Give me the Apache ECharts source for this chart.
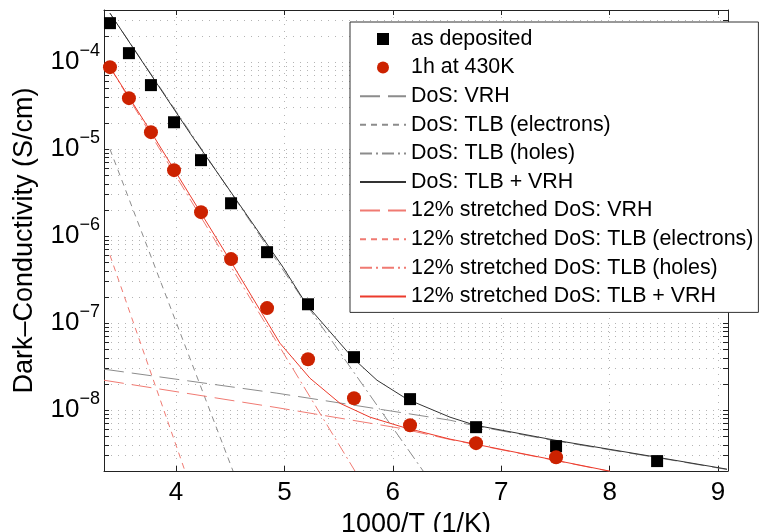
<!DOCTYPE html>
<html>
<head>
<meta charset="utf-8">
<script src="https://cdn.jsdelivr.net/npm/echarts@6/dist/echarts.min.js"></script>
<style>
html, body { margin: 0; padding: 0; background: #fff; }
#chart { width: 760px; height: 532px; }
</style>
</head>
<body>
<div id="chart"></div>
<script>
// measured conductivity, x = 1000/T
var measX = [3.391, 3.566, 3.769, 3.982, 4.231, 4.508, 4.840, 5.218, 5.642, 6.159, 6.768, 7.506, 8.438];
var asDeposited = [2.81e-4, 1.27e-4, 5.45e-5, 2.04e-5, 7.48e-6, 2.39e-6, 6.55e-7, 1.65e-7, 4.07e-8, 1.34e-8, 6.38e-9, 3.86e-9, 2.60e-9];
var annealed = [8.77e-5, 3.86e-5, 1.57e-5, 5.74e-6, 1.89e-6, 5.45e-7, 1.49e-7, 3.85e-8, 1.37e-8, 6.72e-9, 4.18e-9, 2.88e-9];

// model curves (DoS)
var vrhX = [3.336, 4.930, 6.528, 6.758, 7.496, 8.437, 9.083];
var vrhY = [2.96e-8, 1.57e-8, 7.67e-9, 6.60e-9, 4.45e-9, 2.85e-9, 2.08e-9];
var elecX = [3.391, 4.526];
var elecY = [1.0e-5, 2.0e-9];
var holesX = [3.391, 5.208, 6.280];
var holesY = [3.66e-4, 1.60e-7, 2.0e-9];
var sumX = [3.391, 4.129, 4.987, 5.208, 5.633, 5.854, 6.131, 6.528, 6.758, 7.496, 8.437, 9.083];
var sumY = [3.66e-4, 1.53e-5, 4.41e-7, 1.61e-7, 3.96e-8, 2.21e-8, 1.34e-8, 8.31e-9, 6.73e-9, 4.52e-9, 2.88e-9, 2.10e-9];

// model curves, 12% stretched DoS
var sVrhX = [3.336, 4.913, 6.066, 6.528, 8.004];
var sVrhY = [2.21e-8, 1.08e-8, 6.21e-9, 4.60e-9, 1.98e-9];
var sElecX = [3.391, 4.083];
var sElecY = [6.05e-7, 2.0e-9];
var sHolesX = [3.391, 5.651];
var sHolesY = [8.77e-5, 2.0e-9];
var sSumX = [3.391, 3.760, 4.498, 4.959, 5.236, 5.513, 5.790, 6.094, 6.528, 8.004];
var sSumY = [8.77e-5, 1.65e-5, 5.30e-7, 5.89e-8, 2.33e-8, 1.20e-8, 8.31e-9, 6.38e-9, 4.65e-9, 1.99e-9];

var xTicks = [4, 5, 6, 7, 8, 9];
var yMajor = [1e-8, 1e-7, 1e-6, 1e-5, 1e-4];
var yDecades = [1e-9, 1e-8, 1e-7, 1e-6, 1e-5, 1e-4];
var ySteps = [1, 2, 3, 4, 5, 6, 7, 8, 9];

var FONT = 'Liberation Sans, Arial, Helvetica, sans-serif';
var GRAY = '#8c8c8c';
var RED = '#ec3b2c';
var PINK = '#f07a72';

var yTicks = [];
yDecades.forEach(function (d) {
    ySteps.forEach(function (s) {
        var v = s * d;
        if (v >= 2e-9 && v <= 3.98e-4) yTicks.push(v);
    });
});

function pairs(xs, ys) {
    return xs.map(function (x, i) { return [x, ys[i]]; });
}

function curve(name, xs, ys, color, type) {
    return {
        name: name,
        type: 'line',
        data: pairs(xs, ys),
        symbol: 'none',
        showSymbol: false,
        lineStyle: { color: color, width: 1, type: type },
        itemStyle: { color: color },
        z: 2,
        silent: true
    };
}

// legend entries for the curves: line only, no marker
function lineEntry(name) {
    return { name: name, itemStyle: { opacity: 0 } };
}

var axisLine = { show: true, lineStyle: { color: '#222', width: 1 } };
var tickStyle = { color: '#222', width: 1 };
var gridDots = { show: true, lineStyle: { color: '#b4b4b4', width: 1, type: [1, 6] } };

var chart = echarts.init(document.getElementById('chart'));
var option = {
    animation: false,
    backgroundColor: '#fff',
    textStyle: { fontFamily: FONT },
    grid: { left: 104, right: 32, top: 10, bottom: 61, containLabel: false, outerBoundsMode: 'none' },
    legend: {
        orient: 'vertical',
        left: 350,
        top: 22,
        padding: [6, 5, 5, 9],
        itemWidth: 46,
        itemHeight: 12,
        itemGap: 6.6,
        selectedMode: false,
        symbolKeepAspect: true,
        backgroundColor: '#fff',
        borderColor: '#333',
        borderWidth: 1,
        textStyle: { fontFamily: FONT, fontSize: 21.4, color: '#000', lineHeight: 22 },
        data: [
            { name: 'as deposited', icon: 'path://M0,0L10,0L10,10L0,10Z', itemStyle: { opacity: 1 } },
            { name: '1h at 430K', icon: 'circle', itemStyle: { opacity: 1 } },
            lineEntry('DoS: VRH'),
            lineEntry('DoS: TLB (electrons)'),
            lineEntry('DoS: TLB (holes)'),
            lineEntry('DoS: TLB + VRH'),
            lineEntry('12% stretched DoS: VRH'),
            lineEntry('12% stretched DoS: TLB (electrons)'),
            lineEntry('12% stretched DoS: TLB (holes)'),
            lineEntry('12% stretched DoS: TLB + VRH')
        ]
    },
    xAxis: [{
        type: 'value',
        min: 3.336,
        max: 9.092,
        name: '1000/T (1/K)',
        nameLocation: 'middle',
        nameGap: 34,
        nameTextStyle: { fontFamily: FONT, fontSize: 27, color: '#000' },
        axisLine: axisLine,
        axisTick: { inside: true, length: 5, lineStyle: tickStyle, customValues: xTicks },
        axisLabel: { customValues: xTicks, fontFamily: FONT, fontSize: 26, color: '#000', margin: 9 },
        splitLine: gridDots
    }, {
        type: 'value',
        position: 'top',
        min: 3.336,
        max: 9.092,
        axisLine: axisLine,
        axisTick: { inside: true, length: 5, lineStyle: tickStyle, customValues: xTicks },
        axisLabel: { show: false },
        splitLine: { show: false }
    }],
    yAxis: [{
        type: 'log',
        logBase: 10,
        min: 2e-9,
        max: 3.98e-4,
        name: 'Dark\u2013Conductivity (S/cm)',
        nameLocation: 'middle',
        nameGap: 66,
        nameTextStyle: { fontFamily: FONT, fontSize: 27, color: '#000' },
        axisLine: axisLine,
        axisTick: { inside: true, length: 5, lineStyle: tickStyle, customValues: yTicks },
        axisLabel: {
            customValues: yMajor,
            margin: 4,
            formatter: function (v) {
                var e = Math.round(Math.log10(v));
                return '{b|10}{s|\u2212' + Math.abs(e) + '}';
            },
            rich: {
                b: { fontFamily: FONT, fontSize: 26, color: '#000' },
                s: { fontFamily: FONT, fontSize: 18, color: '#000', padding: [0, 0, 22, 0] }
            }
        },
        splitLine: gridDots
    }, {
        type: 'log',
        logBase: 10,
        position: 'right',
        min: 2e-9,
        max: 3.98e-4,
        axisLine: axisLine,
        axisTick: { inside: true, length: 5, lineStyle: tickStyle, customValues: yTicks },
        axisLabel: { show: false },
        splitLine: { show: false }
    }],
    series: [
        curve('DoS: VRH', vrhX, vrhY, GRAY, [20, 8]),
        curve('DoS: TLB (electrons)', elecX, elecY, GRAY, [6, 5]),
        curve('DoS: TLB (holes)', holesX, holesY, GRAY, [12, 4, 2, 4]),
        curve('DoS: TLB + VRH', sumX, sumY, '#333', 'solid'),
        curve('12% stretched DoS: VRH', sVrhX, sVrhY, PINK, [20, 8]),
        curve('12% stretched DoS: TLB (electrons)', sElecX, sElecY, PINK, [6, 5]),
        curve('12% stretched DoS: TLB (holes)', sHolesX, sHolesY, PINK, [12, 4, 2, 4]),
        curve('12% stretched DoS: TLB + VRH', sSumX, sSumY, RED, 'solid'),
        {
            name: 'as deposited',
            type: 'scatter',
            data: pairs(measX, asDeposited),
            symbol: 'rect',
            symbolSize: 12,
            itemStyle: { color: '#000', opacity: 1 },
            z: 3,
            silent: true
        },
        {
            name: '1h at 430K',
            type: 'scatter',
            data: pairs(measX.slice(0, annealed.length), annealed),
            symbol: 'circle',
            symbolSize: 14,
            itemStyle: { color: '#cc2200', opacity: 1 },
            z: 3,
            silent: true
        }
    ]
};
chart.setOption(option);
</script>
</body>
</html>
